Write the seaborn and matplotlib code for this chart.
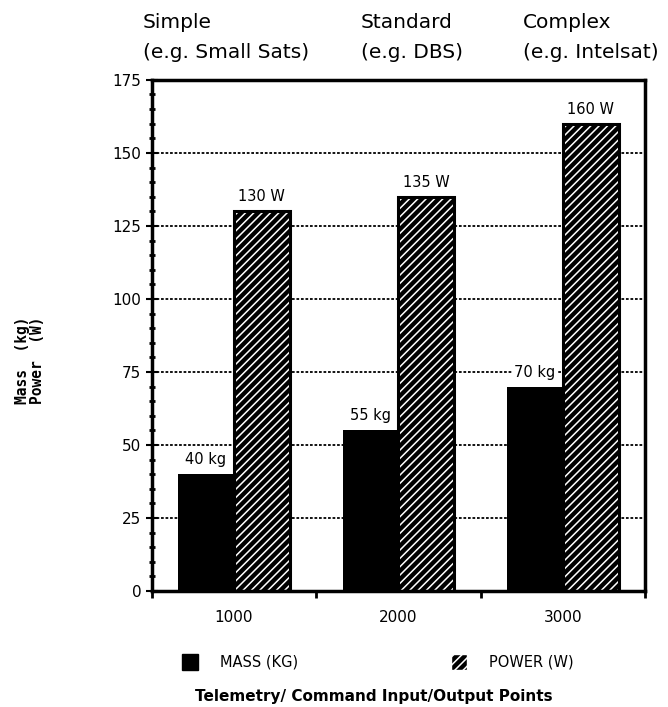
import numpy as np
import pandas as pd
import seaborn as sns
import matplotlib.pyplot as plt
from matplotlib.patches import Rectangle, Patch
from matplotlib.ticker import MultipleLocator, FixedLocator

# ---- data ----
categories = ["1000", "2000", "3000"]
series_names = ["MASS (KG)", "POWER (W)"]
mass_kg = [40, 55, 70]
power_w = [130, 135, 160]
mass_labels = ["40 kg", "55 kg", "70 kg"]
power_labels = ["130 W", "135 W", "160 W"]
header_titles = ["Simple", "Standard", "Complex"]
header_examples = ["(e.g. Small Sats)", "(e.g. DBS)", "(e.g. Intelsat)"]
y_ticks = [0, 25, 50, 75, 100, 125, 150, 175]

df = pd.DataFrame({
    "points": categories * 2,
    "value": mass_kg + power_w,
    "series": [series_names[0]] * len(categories) + [series_names[1]] * len(categories),
})

sns.set_style("white")
plt.rcParams['font.family'] = ['DejaVu Sans']
plt.rcParams['text.color'] = 'black'
plt.rcParams['xtick.color'] = 'black'
plt.rcParams['ytick.color'] = 'black'
plt.rcParams['axes.labelcolor'] = 'black'
plt.rcParams['hatch.color'] = 'white'
plt.rcParams['hatch.linewidth'] = 1.1

fig = plt.figure(figsize=(6.68, 7.07), dpi=100)
ax = fig.add_axes([0.227, 0.164, 0.739, 0.723])

sns.barplot(data=df, x="points", y="value", hue="series", order=categories,
            hue_order=series_names, palette=["black", "black"], saturation=1,
            width=0.68, gap=0, linewidth=0, legend=False, ax=ax, zorder=2)

mass_cont, power_cont = ax.containers[0], ax.containers[1]
for p in power_cont:
    p.set_facecolor("black")
    p.set_edgecolor("white")
    p.set_hatch("////")
    p.set_linewidth(0)
    ax.add_patch(Rectangle((p.get_x(), p.get_y()), p.get_width(), p.get_height(),
                           fill=False, edgecolor="black", linewidth=2.2, zorder=3))

lab_kw = dict(fontsize=10.5, color="black",
              bbox=dict(facecolor="white", edgecolor="none", pad=1.0))
ax.bar_label(mass_cont, labels=mass_labels, padding=5, **lab_kw)
ax.bar_label(power_cont, labels=power_labels, padding=5, **lab_kw)

ax.set_ylim(0, 175)
ax.set_xlim(-0.5, 2.5)
ax.set_yticks(y_ticks)
ax.yaxis.set_minor_locator(MultipleLocator(5))
ax.tick_params(axis="y", which="major", direction="inout", length=9, width=1.5,
               labelsize=11, pad=3, left=True)
ax.tick_params(axis="y", which="minor", direction="inout", length=4, width=2, left=True)
ax.set_xticks(range(len(categories)))
ax.set_xticklabels(categories)
ax.xaxis.set_minor_locator(FixedLocator([-0.5, 0.5, 1.5, 2.5]))
ax.tick_params(axis="x", which="major", length=0, labelsize=11, pad=14)
ax.tick_params(axis="x", which="minor", direction="out", length=5, width=2, bottom=True)

ax.yaxis.grid(True, color="black", linestyle=(0, (1.5, 1)), linewidth=1.3)
ax.xaxis.grid(False)
ax.set_axisbelow(True)
for s in ax.spines.values():
    s.set_visible(True)
    s.set_color("black")
    s.set_linewidth(2.5)
ax.set_xlabel("")
ax.set_ylabel("")

# y label
fig.text(30 / 668, 1 - 360 / 707, "Mass  (kg)\nPower  (W)", rotation=90,
         ha="center", va="center", fontsize=10.5, fontweight="bold",
         family="DejaVu Sans Mono", linespacing=1.0)

# headers
hx = [143, 361, 523]
for x, t, e in zip(hx, header_titles, header_examples):
    fig.text(x / 668, 1 - 22 / 707, t, ha="left", va="center", fontsize=14.5)
    fig.text(x / 668, 1 - 52 / 707, e, ha="left", va="center", fontsize=14.5)

# legend
handles = [Patch(facecolor="black", edgecolor="black", label=series_names[0]),
           Patch(facecolor="black", edgecolor="white", hatch="////", label=series_names[1])]
fig.legend(handles=handles, loc="center", bbox_to_anchor=(378 / 668, 1 - 662 / 707),
           ncol=2, frameon=False, fontsize=10.5, handlelength=1.1, handleheight=1.3,
           handletextpad=1.5, columnspacing=10.5)

fig.text(374 / 668, 1 - 697 / 707, "Telemetry/ Command Input/Output Points",
         ha="center", va="center", fontsize=11, fontweight="semibold")

fig.savefig("out.png", dpi=100)
